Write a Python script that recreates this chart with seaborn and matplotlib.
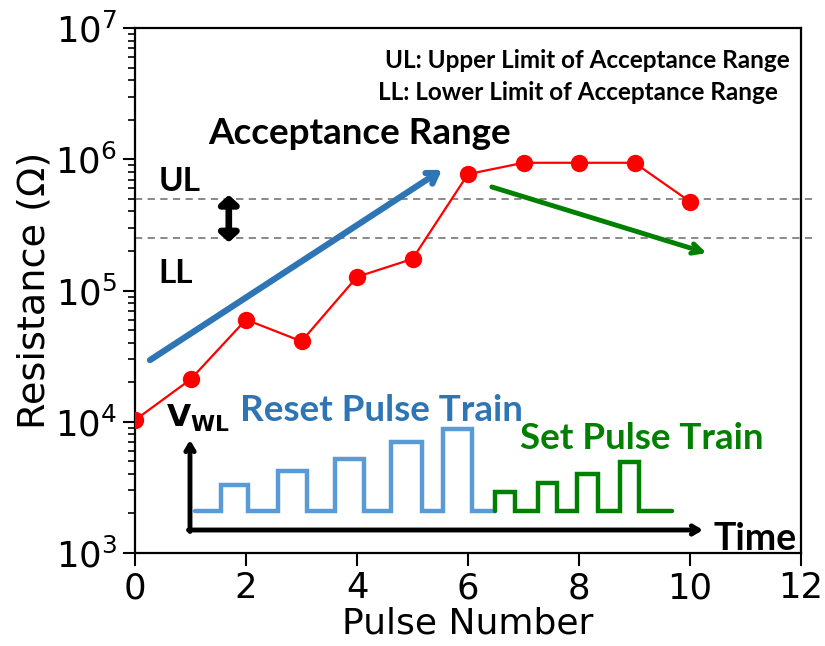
import numpy as np
import pandas as pd
import matplotlib
matplotlib.use("Agg")
import matplotlib.pyplot as plt
import seaborn as sns

# Resistance after each programming pulse
pulse_number = [0, 1, 2, 3, 4, 5, 6, 7, 8, 9, 10]
resistance = [1.03e4, 2.1e4, 6.0e4, 4.1e4, 1.27e5, 1.74e5, 7.7e5, 9.4e5, 9.4e5, 9.4e5, 4.75e5]

# Acceptance range limits
upper_limit = 5.0e5
lower_limit = 2.5e5

x_ticks = [0, 2, 4, 6, 8, 10, 12]

# Schematic word-line voltage waveform (arbitrary time / amplitude units)
reset_on = [31, 88, 145, 201, 253]
reset_off = [58, 117, 174, 232, 282]
reset_amp = [45, 59, 71, 88, 101]
set_on = [305, 348, 387, 430]
set_off = [325, 367, 408, 449]
set_amp = [38, 47, 56, 68]
pulse_base = 19
reset_start, set_end = 5, 482

sns.set_style("white")
plt.rcParams["font.family"] = ["DejaVu Sans"]
for key in ("text.color", "axes.labelcolor", "xtick.color", "ytick.color"):
    plt.rcParams[key] = "black"
BOLD = ["Lato", "DejaVu Sans"]

fig = plt.figure(figsize=(8.25, 6.46), dpi=100)
ax = fig.add_axes([135 / 825, 1 - 553 / 646, 666 / 825, 525 / 646])

df = pd.DataFrame({"pulse": pulse_number, "R": resistance})
sns.lineplot(data=df, x="pulse", y="R", ax=ax, color="#ff0000", linewidth=1.6,
             marker="o", markersize=12.5, markeredgewidth=0, zorder=5)

ax.set_yscale("log")
ax.set_xlim(0, 12)
ax.set_ylim(1e3, 1e7)
ax.set_xticks(x_ticks)
ax.set_xlabel("Pulse Number", fontsize=26, labelpad=1)
ax.set_ylabel("Resistance (Ω)", fontsize=27.5, labelpad=2)
ax.tick_params(axis="both", which="major", direction="out", length=9, width=1.5,
               labelsize=25.5, left=True, bottom=True, pad=4)
ax.tick_params(axis="y", which="minor", direction="out", length=5, width=1.2, left=True)
for s in ax.spines.values():
    s.set_linewidth(1.6)
    s.set_color("black")

# Acceptance range limits
for lim in (upper_limit, lower_limit):
    ax.axhline(lim, xmin=0, xmax=1.018, color="#808080", linestyle=(0, (4, 3)),
               linewidth=1.3, clip_on=False, zorder=1)

# Trend arrows
ax.annotate("", xy=(5.53, 8.3e5), xytext=(0.27, 2.95e4),
            arrowprops=dict(arrowstyle="->,head_length=0.7,head_width=0.45",
                            color="#2e75b6", lw=4.5, shrinkA=0, shrinkB=0))
ax.annotate("", xy=(10.3, 1.93e5), xytext=(6.43, 6.15e5),
            arrowprops=dict(arrowstyle="->,head_length=0.7,head_width=0.35",
                            color="#008000", lw=3.5, shrinkA=0, shrinkB=0))
ax.annotate("", xy=(1.69, lower_limit * 0.93), xytext=(1.69, upper_limit * 1.07),
            arrowprops=dict(arrowstyle="<|-|>,head_length=0.5,head_width=0.55",
                            color="black", lw=4.8, shrinkA=0, shrinkB=0))

# Text annotations
ax.text(0.983, 0.939, "UL: Upper Limit of Acceptance Range", transform=ax.transAxes,
        ha="right", va="center", fontsize=17.5, fontweight="bold", family=BOLD)
ax.text(0.365, 0.878, "LL: Lower Limit of Acceptance Range", transform=ax.transAxes,
        ha="left", va="center", fontsize=17.5, fontweight="bold", family=BOLD)
ax.text(0.11, 0.8, "Acceptance Range", transform=ax.transAxes,
        ha="left", va="center", fontsize=26.5, fontweight="bold", family=BOLD)
ax.text(0.035, 0.707, "UL", transform=ax.transAxes, ha="left", va="center",
        fontsize=24, fontweight="bold", family=BOLD)
ax.text(0.035, 0.532, "LL", transform=ax.transAxes, ha="left", va="center",
        fontsize=24, fontweight="bold", family=BOLD)
ax.text(0.158, 0.272, "Reset Pulse Train", transform=ax.transAxes, ha="left",
        va="center", fontsize=26.5, fontweight="bold", family=BOLD, color="#2e75b6")
ax.text(0.578, 0.219, "Set Pulse Train", transform=ax.transAxes, ha="left",
        va="center", fontsize=26.5, fontweight="bold", family=BOLD, color="#008000")
ax.text(0.868, 0.027, "Time", transform=ax.transAxes, ha="left", va="center",
        fontsize=27, fontweight="bold", family=BOLD)
ax.text(0.046, 0.24, r"$\mathbf{V}_{\mathbf{WL}}$", transform=ax.transAxes, ha="left",
        va="baseline", fontsize=22.5)

# Pulse-train schematic in an inset
ax_in = ax.inset_axes([(190 - 135) / 666, (553 - 530) / 525,
                       (703 - 190) / 666, (530 - 440) / 525])
ax_in.set_xlim(0, 513)
ax_in.set_ylim(0, 90)
ax_in.axis("off")


def waveform(on, off, amp, start, end):
    t, v = [start], [pulse_base]
    for a, b, h in zip(on, off, amp):
        t += [a, a, b, b]
        v += [pulse_base, h, h, pulse_base]
    t.append(end)
    v.append(pulse_base)
    return t, v


rt, rv = waveform(reset_on, reset_off, reset_amp, reset_start, set_on[0])
st, sv = waveform(set_on, set_off, set_amp, set_on[0], set_end)
ax_in.plot(rt, rv, color="#5b9bd5", lw=3.2, solid_joinstyle="miter", clip_on=False)
ax_in.plot(st, sv, color="#008000", lw=3.2, solid_joinstyle="miter", clip_on=False)
ax_in.annotate("", xy=(0, 90), xytext=(0, -1.5),
               arrowprops=dict(arrowstyle="->,head_length=0.5,head_width=0.3",
                               color="black", lw=3.5, shrinkA=0, shrinkB=0))
ax_in.annotate("", xy=(513, 0), xytext=(-1.5, 0),
               arrowprops=dict(arrowstyle="->,head_length=0.5,head_width=0.3",
                               color="black", lw=3.5, shrinkA=0, shrinkB=0))

fig.savefig("out.png", dpi=100)
